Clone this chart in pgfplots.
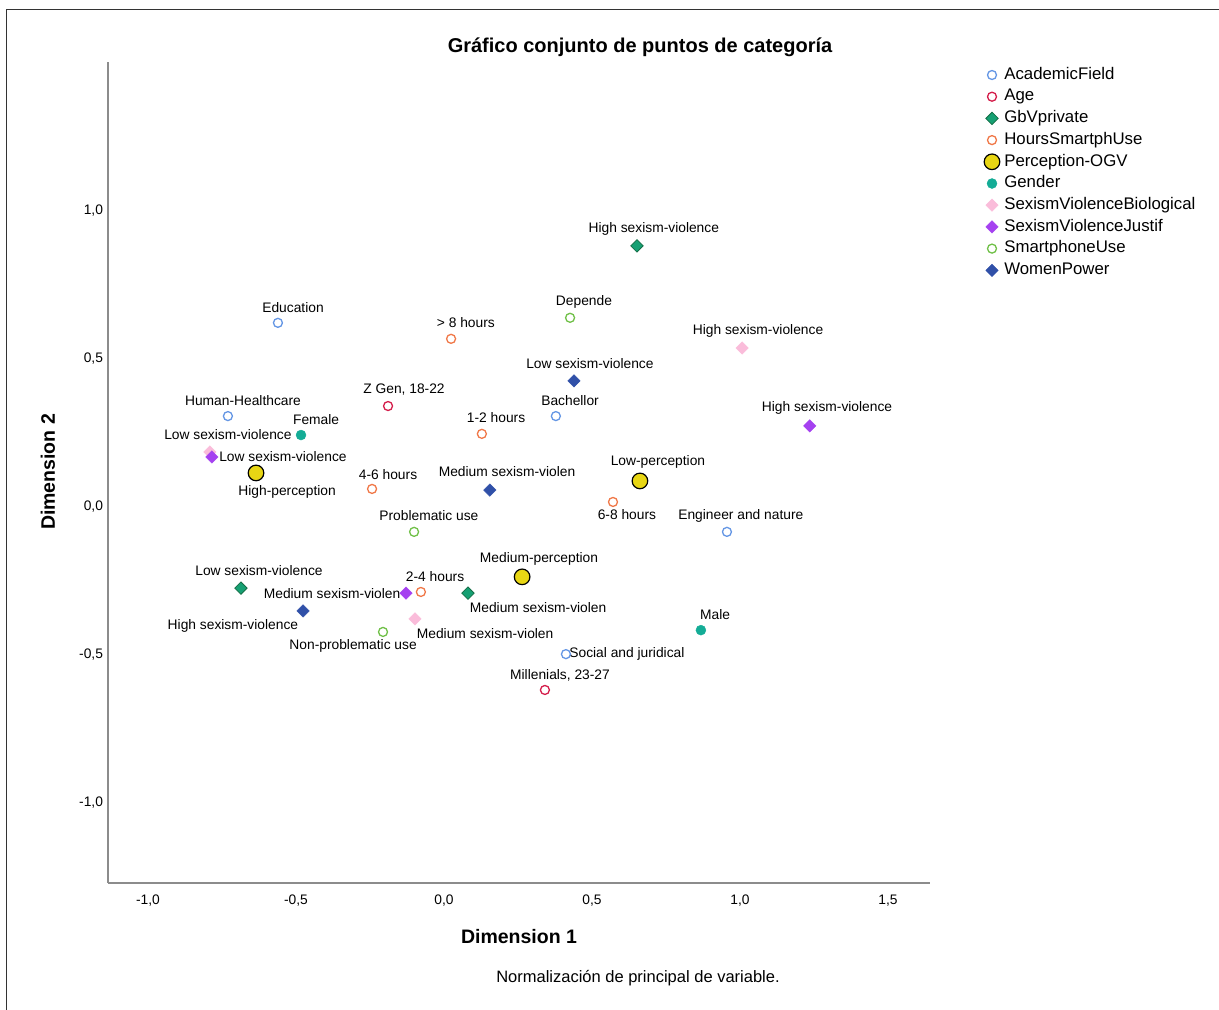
\documentclass[border=0pt]{standalone}
\usepackage{fontspec}
\setmainfont{Liberation Sans}
\usepackage{pgfplots}
\pgfplotsset{compat=1.18}
\definecolor{cAcad}{RGB}{100,150,228}
\definecolor{cAge}{RGB}{212,30,75}
\definecolor{cGbV}{RGB}{22,160,115}
\definecolor{cGbVd}{RGB}{20,110,70}
\definecolor{cHours}{RGB}{240,120,72}
\definecolor{cYel}{RGB}{232,214,20}
\definecolor{cGen}{RGB}{20,172,150}
\definecolor{cSVB}{RGB}{250,188,218}
\definecolor{cSVJ}{RGB}{165,65,240}
\definecolor{cSmart}{RGB}{112,192,72}
\definecolor{cWP}{RGB}{48,80,168}
\tikzset{labl/.style={font=\fontsize{13.8}{16}\selectfont, inner sep=0pt}}
\begin{document}
\begin{tikzpicture}
\useasboundingbox (0pt,0pt) rectangle (1219pt,1010pt);
\draw[line width=1.5pt, black!80] (6.5pt,0pt) -- (6.5pt,1000.5pt) -- (1219pt,1000.5pt);
\node[font=\bfseries\fontsize{20}{23}\selectfont] at (640pt,963pt) {Gráfico conjunto de puntos de categoría};
\node[font=\bfseries\fontsize{19.5}{22}\selectfont] at (519pt,73pt) {Dimension 1};
\node[font=\bfseries\fontsize{19.5}{22}\selectfont, rotate=90] at (48pt,538pt) {Dimension 2};
\node[font=\fontsize{16.5}{18}\selectfont] at (638pt,32pt) {Normalización de principal de variable.};
\begin{axis}[
  at={(108pt,127pt)}, anchor=south west,
  scale only axis, width=822pt, height=821pt,
  xmin=-1.1351, xmax=1.642, ymin=-1.270, ymax=1.503,
  axis lines*=left,
  axis line style={black!45, line width=1.3pt},
  xtick={-1,-0.5,0,0.5,1,1.5},
  ytick={-1,-0.5,0,0.5,1},
  major tick length=0pt,
  tick style={draw=none},
  /pgf/number format/.cd, use comma, fixed, fixed zerofill, precision=1, assume math mode=true,
  /pgfplots/.cd,
  ticklabel style={font=\fontsize{13.8}{15}\selectfont},
  xticklabel style={yshift=-8.5pt},
  yticklabel style={xshift=-1.5pt},
  clip=false,
  legend style={at={(1.0657,0.9976)}, anchor=north west, draw=none, fill=none, inner sep=0pt,
    font=\fontsize{16.8}{18}\selectfont,
    nodes={text height=12.5pt, text depth=4pt, inner ysep=2.6pt, inner xsep=4.5pt}},
  legend cell align=left,
]
% AcademicField
\addplot[only marks, mark=o, color=cAcad, mark size=4.5pt, mark options={line width=1.3pt}] coordinates {
 (-0.561,0.622) (-0.730,0.307) (0.378,0.307) (0.956,-0.084) (0.412,-0.497)};
\addlegendentry{AcademicField}
% Age
\addplot[only marks, mark=o, color=cAge, mark size=4.5pt, mark options={line width=1.3pt}] coordinates {
 (-0.189,0.341) (0.341,-0.618)};
\addlegendentry{Age}
% GbVprivate
\addplot[only marks, mark=square*, mark size=4.4pt, mark options={rotate=45, fill=cGbV, draw=cGbVd, line width=0.8pt}] coordinates {
 (0.652,0.882) (-0.686,-0.274) (0.081,-0.291)};
\addlegendentry{GbVprivate}
% HoursSmartphUse
\addplot[only marks, mark=o, color=cHours, mark size=4.5pt, mark options={line width=1.3pt}] coordinates {
 (0.024,0.568) (0.128,0.247) (-0.243,0.061) (0.571,0.017) (-0.078,-0.287)};
\addlegendentry{HoursSmartphUse}
% Perception-OGV
\addplot[only marks, mark=*, mark size=7.8pt, mark options={fill=cYel, draw=black, line width=1.2pt}] coordinates {
 (-0.635,0.115) (0.662,0.088) (0.264,-0.236)};
\addlegendentry{Perception-OGV}
% Gender
\addplot[only marks, mark=*, mark size=5pt, mark options={fill=cGen, draw=cGen}] coordinates {
 (-0.483,0.243) (0.868,-0.416)};
\addlegendentry{Gender}
% SexismViolenceBiological
\addplot[only marks, mark=square*, mark size=4.4pt, mark options={rotate=45, fill=cSVB, draw=cSVB}] coordinates {
 (1.007,0.537) (-0.098,-0.378) (-0.791,0.186)};
\addlegendentry{SexismViolenceBiological}
% SexismViolenceJustif
\addplot[only marks, mark=square*, mark size=4.4pt, mark options={rotate=45, fill=cSVJ, draw=cSVJ}] coordinates {
 (1.236,0.274) (-0.784,0.169) (-0.128,-0.291)};
\addlegendentry{SexismViolenceJustif}
% SmartphoneUse
\addplot[only marks, mark=o, color=cSmart, mark size=4.5pt, mark options={line width=1.3pt}] coordinates {
 (0.426,0.639) (-0.101,-0.084) (-0.206,-0.422)};
\addlegendentry{SmartphoneUse}
% WomenPower
\addplot[only marks, mark=square*, mark size=4.4pt, mark options={rotate=45, fill=cWP, draw=cWP}] coordinates {
 (0.439,0.426) (0.155,0.057) (-0.476,-0.351)};
\addlegendentry{WomenPower}
% labels
\node[labl] at (axis cs:-0.510,0.672) {Education};
\node[labl] at (axis cs:-0.679,0.361) {Human-Healthcare};
\node[labl] at (axis cs:0.426,0.358) {Bachellor};
\node[labl] at (axis cs:1.003,-0.030) {Engineer and nature};
\node[labl] at (axis cs:0.618,-0.497) {Social and juridical};
\node[labl] at (axis cs:-0.135,0.395) {Z Gen, 18-22};
\node[labl] at (axis cs:0.392,-0.568) {Millenials, 23-27};
\node[labl] at (axis cs:0.709,0.939) {High sexism-violence};
\node[labl] at (axis cs:-0.625,-0.216) {Low sexism-violence};
\node[labl] at (axis cs:0.318,-0.341) {Medium sexism-violen};
\node[labl] at (axis cs:0.074,0.622) {> 8 hours};
\node[labl] at (axis cs:0.176,0.301) {1-2 hours};
\node[labl] at (axis cs:-0.189,0.111) {4-6 hours};
\node[labl] at (axis cs:0.618,-0.027) {6-8 hours};
\node[labl] at (axis cs:-0.030,-0.236) {2-4 hours};
\node[labl] at (axis cs:-0.530,0.051) {High-perception};
\node[labl] at (axis cs:0.723,0.152) {Low-perception};
\node[labl] at (axis cs:0.321,-0.176) {Medium-perception};
\node[labl] at (axis cs:-0.432,0.294) {Female};
\node[labl] at (axis cs:0.916,-0.365) {Male};
\node[labl] at (axis cs:1.061,0.595) {High sexism-violence};
\node[labl] at (axis cs:0.139,-0.426) {Medium sexism-violen};
\node[labl] at (axis cs:-0.730,0.243) {Low sexism-violence};
\node[labl] at (axis cs:1.294,0.334) {High sexism-violence};
\node[labl] at (axis cs:-0.544,0.169) {Low sexism-violence};
\node[labl] at (axis cs:-0.378,-0.294) {Medium sexism-violen};
\node[labl] at (axis cs:0.473,0.693) {Depende};
\node[labl] at (axis cs:-0.051,-0.030) {Problematic use};
\node[labl] at (axis cs:-0.307,-0.470) {Non-problematic use};
\node[labl] at (axis cs:0.493,0.483) {Low sexism-violence};
\node[labl] at (axis cs:0.213,0.118) {Medium sexism-violen};
\node[labl] at (axis cs:-0.713,-0.402) {High sexism-violence};
\end{axis}
\end{tikzpicture}
\end{document}
